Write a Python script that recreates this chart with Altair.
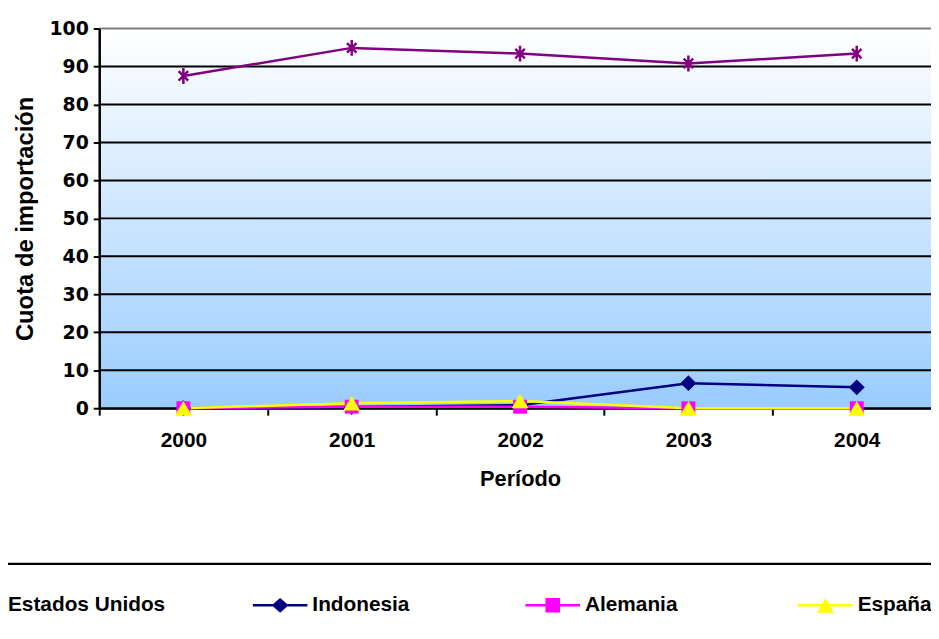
import altair as alt
import pandas as pd

# ---- data ----
years = ["2000", "2001", "2002", "2003", "2004"]
series_names = ["Estados Unidos", "Indonesia", "Alemania", "España"]
estados_unidos = [87.5, 94.9, 93.4, 90.8, 93.4]
indonesia = [0.0, 0.3, 0.8, 6.6, 5.5]
alemania = [0.0, 0.4, 0.4, 0.0, 0.0]
espana = [0.0, 1.3, 1.9, 0.0, 0.0]
y_ticks = [0, 10, 20, 30, 40, 50, 60, 70, 80, 90, 100]
series_colors = ["#800080", "#000080", "#FF00FF", "#FFFF00"]

# ---- marker styles ----
ASTERISK = "M0,-1V1M-0.6,-0.6L0.6,0.6M-0.6,0.6L0.6,-0.6"
marker_shapes = [ASTERISK, "diamond", "square", "triangle-up"]
marker_sizes = [256, 256, 196, 289]
marker_filled = [False, True, True, True]

LINE = "M-1,-0.045H1V0.045H-1Z"
legend_paths = [
    LINE,
    LINE + "M-0.31,0L0,-0.27L0.31,0L0,0.27Z",
    LINE + "M-0.267,-0.267H0.267V0.267H-0.267Z",
    LINE + "M0,-0.27L0.31,0.27H-0.31Z",
]

rows = []
for name, vals in zip(series_names, [estados_unidos, indonesia, alemania, espana]):
    for yr, v in zip(years, vals):
        rows.append({"Periodo": yr, "Serie": name, "Cuota": v})
df = pd.DataFrame(rows)
grid_df = pd.DataFrame({"Cuota": y_ticks})

base = alt.Chart(df)
color_scale = alt.Scale(domain=series_names, range=series_colors)

x_axis = alt.Axis(
    title="Período", labelAngle=0, tickBand="extent", tickSize=7, tickWidth=2,
    tickColor="black", domainColor="black", domainWidth=2, grid=False,
    labelFont="Liberation Sans", labelFontSize=21, labelFontWeight="bold",
    labelColor="black", labelPadding=15,
    titleFont="Liberation Sans", titleFontSize=22, titleFontWeight="bold",
    titleColor="black", titlePadding=18,
)
y_axis = alt.Axis(
    title="Cuota de importación", values=y_ticks, tickSize=6, tickWidth=2,
    tickColor="black", domainColor="black", domainWidth=2.5, grid=False, zindex=1,
    labelFont="DejaVu Sans", labelFontSize=19, labelFontWeight="bold",
    labelColor="black", labelPadding=5,
    titleFont="Liberation Sans", titleFontSize=24, titleFontWeight="bold",
    titleColor="black", titlePadding=12,
)

x_enc = alt.X("Periodo:N",
              scale=alt.Scale(type="band", domain=years, range=[0, 849],
                              paddingInner=0, paddingOuter=0),
              axis=x_axis)
y_enc = alt.Y("Cuota:Q", scale=alt.Scale(domain=[0, 100], nice=False), axis=y_axis)

# plot-area gradient background
background = alt.Chart(pd.DataFrame({"bg": [0]})).mark_rect(
    fill={"gradient": "linear", "x1": 0, "y1": 0, "x2": 0, "y2": 1,
          "stops": [{"offset": 0, "color": "#ffffff"},
                    {"offset": 1, "color": "#99ccff"}]}
).encode(x=alt.value(0), x2=alt.value("width"), y=alt.value(0), y2=alt.value("height"))

# horizontal gridlines (top one grey = plot border)
gridlines = alt.Chart(grid_df).mark_rule(strokeWidth=2).encode(
    y=y_enc,
    color=alt.condition(alt.datum.Cuota == 100, alt.value("#808080"), alt.value("black")),
)

lines = base.mark_line(strokeWidth=2.5).encode(
    x=x_enc, y=y_enc,
    color=alt.Color("Serie:N", scale=color_scale, legend=None),
)

point_layers = []
for name, shp, sz, fl in zip(series_names, marker_shapes, marker_sizes, marker_filled):
    point_layers.append(
        base.transform_filter(alt.datum.Serie == name)
        .mark_point(shape=shp, size=sz, filled=fl, opacity=1, strokeWidth=2.5)
        .encode(x=x_enc, y=y_enc,
                color=alt.Color("Serie:N", scale=color_scale, legend=None))
    )

leg_common = dict(
    orient="none", direction="horizontal", title=None, padding=0,
    labelFont="Liberation Sans", labelFontSize=21, labelFontWeight="bold",
    labelColor="black", labelOffset=5, labelLimit=400,
    symbolSize=3025, symbolStrokeWidth=0, symbolOpacity=1, legendY=554,
)
leg_a = alt.Legend(values=series_names[1:], columns=3, gridAlign="all",
                   columnPadding=116, legendX=155, **leg_common)
legend_a_layer = base.transform_filter("false").mark_point(filled=True, opacity=1).encode(
    color=alt.Color("Serie:N", scale=color_scale, legend=leg_a),
    shape=alt.Shape("Serie:N", scale=alt.Scale(domain=series_names, range=legend_paths),
                    legend=leg_a),
)
leg_b = alt.Legend(legendX=-152, symbolType=legend_paths[0],
                   symbolFillColor=series_colors[0], **leg_common)
legend_b_layer = base.transform_filter("false").mark_point(filled=True, opacity=1).encode(
    strokeDash=alt.StrokeDash("Serie:N",
                              scale=alt.Scale(domain=series_names[:1], range=[[1, 0]]),
                              legend=leg_b),
)

legend_rule = alt.Chart(pd.DataFrame({"r": [0]})).mark_rule(
    color="black", strokeWidth=2.5
).encode(x=alt.value(-100), x2=alt.value(839), y=alt.value(540))

chart = alt.layer(
    background, gridlines, lines, *point_layers, legend_a_layer, legend_b_layer, legend_rule
).resolve_legend(color="independent", shape="independent").properties(
    width=839, height=383,
    autosize=alt.AutoSizeParams(type="none"),
    padding={"left": 92, "top": 18, "right": 0, "bottom": 222},
).configure(background="white", font="Liberation Sans").configure_view(strokeWidth=0)

chart.save("out.html", embed_options={"renderer": "svg", "actions": False})
